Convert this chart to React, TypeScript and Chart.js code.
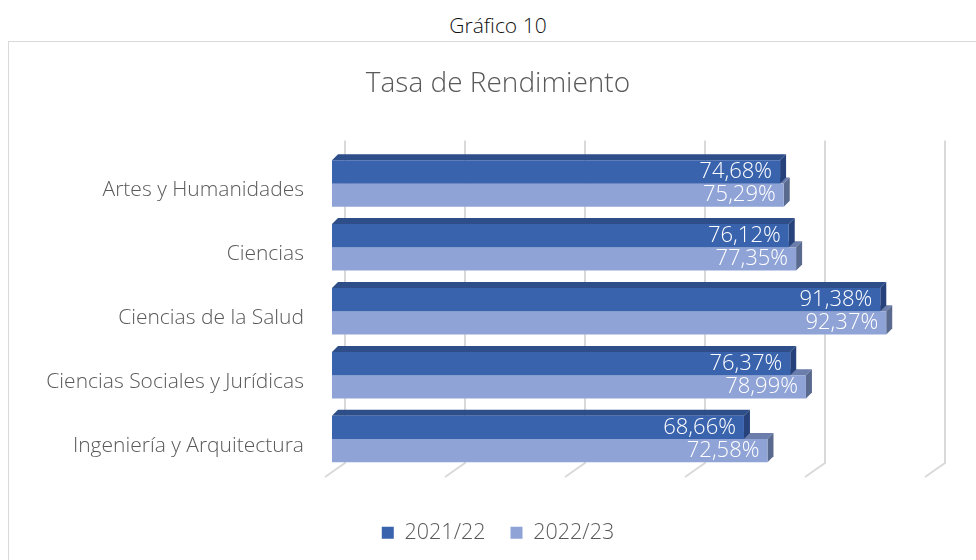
import React, { useEffect, useRef } from "react";
import { Chart, registerables } from "chart.js";

Chart.register(...registerables);

const categories = [
  "Artes y Humanidades",
  "Ciencias",
  "Ciencias de la Salud",
  "Ciencias Sociales y Jurídicas",
  "Ingeniería y Arquitectura",
];
const series2122 = [74.68, 76.12, 91.38, 76.37, 68.66];
const series2223 = [75.29, 77.35, 92.37, 78.99, 72.58];
const seriesNames = ["2021/22", "2022/23"];
const gridTicks = [0, 20, 40, 60, 80, 100];

const FONT = '"Open Sans", "Noto Sans", sans-serif';
const FRONT = ["#3A63AE", "#8FA3D6"];
const TOPFACE = ["#2E4E8A", "#6B7DAB"];
const SIDEFACE = ["#27427A", "#5A6A8F"];
const DX = 6;
const DY = 6;

const fmt = (v: number) => v.toFixed(2).replace(".", ",") + "%";

const threeD = {
  id: "threeD",
  beforeDatasetsDraw(chart: any) {
    const { ctx, chartArea, scales } = chart;
    const xs = scales.x;
    ctx.save();
    ctx.strokeStyle = "#d9d9d9";
    ctx.lineWidth = 2;
    for (const v of gridTicks) {
      const px = xs.getPixelForValue(v);
      ctx.beginPath();
      ctx.moveTo(px + 13, chartArea.top - 11);
      ctx.lineTo(px + 13, chartArea.bottom - 8);
      ctx.lineTo(px - 7, chartArea.bottom + 6);
      ctx.stroke();
    }
    for (let i = 0; i < categories.length; i++) {
      for (const ds of [1, 0]) {
        const el = chart.getDatasetMeta(ds).data[i];
        if (!el) continue;
        const { x, y, base, height } = el.getProps(["x", "y", "base", "height"], true);
        const top = y - height / 2;
        const bottom = y + height / 2;
        ctx.fillStyle = TOPFACE[ds];
        ctx.beginPath();
        ctx.moveTo(base, top);
        ctx.lineTo(base + DX, top - DY);
        ctx.lineTo(x + DX, top - DY);
        ctx.lineTo(x, top);
        ctx.closePath();
        ctx.fill();
        ctx.fillStyle = SIDEFACE[ds];
        ctx.beginPath();
        ctx.moveTo(x, top);
        ctx.lineTo(x + DX, top - DY);
        ctx.lineTo(x + DX, bottom - DY);
        ctx.lineTo(x, bottom);
        ctx.closePath();
        ctx.fill();
      }
    }
    ctx.restore();
  },
  afterDatasetsDraw(chart: any) {
    const { ctx } = chart;
    ctx.save();
    ctx.font = `300 22px ${FONT}`;
    ctx.fillStyle = "#ffffff";
    ctx.textAlign = "right";
    ctx.textBaseline = "middle";
    chart.data.datasets.forEach((d: any, ds: number) => {
      chart.getDatasetMeta(ds).data.forEach((el: any, i: number) => {
        const { x, y } = el.getProps(["x", "y"], true);
        ctx.fillText(fmt(d.data[i]), x - 8, y);
      });
    });
    ctx.restore();
  },
};

function ChartBox() {
  const ref = useRef<HTMLCanvasElement | null>(null);
  useEffect(() => {
    if (!ref.current) return;
    const chart = new Chart(ref.current, {
      type: "bar",
      data: {
        labels: categories,
        datasets: [
          { label: seriesNames[0], data: series2122, backgroundColor: FRONT[0], borderWidth: 0 },
          { label: seriesNames[1], data: series2223, backgroundColor: FRONT[1], borderWidth: 0 },
        ],
      },
      options: {
        indexAxis: "y",
        animation: false,
        responsive: false,
        maintainAspectRatio: false,
        categoryPercentage: 0.728,
        barPercentage: 1,
        layout: { padding: { left: 0, right: 0, top: 0, bottom: 6.5 } },
        scales: {
          x: {
            min: 0,
            max: 100,
            display: true,
            grid: { display: false },
            border: { display: false },
            ticks: { display: false },
            afterFit: (s: any) => {
              s.height = 26;
            },
          },
          y: {
            grid: { display: false, drawTicks: false },
            border: { display: false },
            ticks: {
              padding: 28,
              labelOffset: 6.5,
              color: "#595959",
              font: { family: FONT, size: 21, weight: "300" },
            },
            afterFit: (s: any) => {
              s.width = 323;
            },
          },
          yR: {
            type: "linear",
            position: "right",
            display: true,
            grid: { display: false },
            border: { display: false },
            ticks: { display: false },
            afterFit: (s: any) => {
              s.width = 55;
            },
          },
        },
        plugins: {
          title: {
            display: true,
            text: "Tasa de Rendimiento",
            color: "#595959",
            font: { family: FONT, size: 28, weight: "300" },
            padding: { top: 24.8, bottom: 51.1 },
          },
          legend: {
            position: "bottom",
            labels: {
              boxWidth: 12,
              boxHeight: 12,
              padding: 25,
              color: "#595959",
              font: { family: FONT, size: 21.5, weight: "300" },
            },
          },
          tooltip: { enabled: false },
        },
      } as any,
      plugins: [threeD],
    });
    return () => chart.destroy();
  }, []);
  return <canvas ref={ref} width={978} height={518} style={{ display: "block", width: 978, height: 518 }} />;
}

export default function App() {
  return (
    <div
      style={{
        position: "fixed",
        left: 0,
        top: 0,
        width: 976,
        height: 560,
        overflow: "hidden",
        background: "#ffffff",
      }}
    >
      <div
        style={{
          position: "absolute",
          left: 398,
          width: 200,
          top: 11,
          textAlign: "center",
          fontFamily: FONT,
          fontSize: 21,
          fontWeight: 300,
          color: "#111111",
          lineHeight: "28px",
        }}
      >
        Gráfico 10
      </div>
      <div
        style={{
          position: "absolute",
          left: 8,
          top: 41,
          width: 1000,
          height: 600,
          borderTop: "1px solid #d9d9d9",
          borderLeft: "1px solid #d9d9d9",
        }}
      >
        <ChartBox />
      </div>
    </div>
  );
}
